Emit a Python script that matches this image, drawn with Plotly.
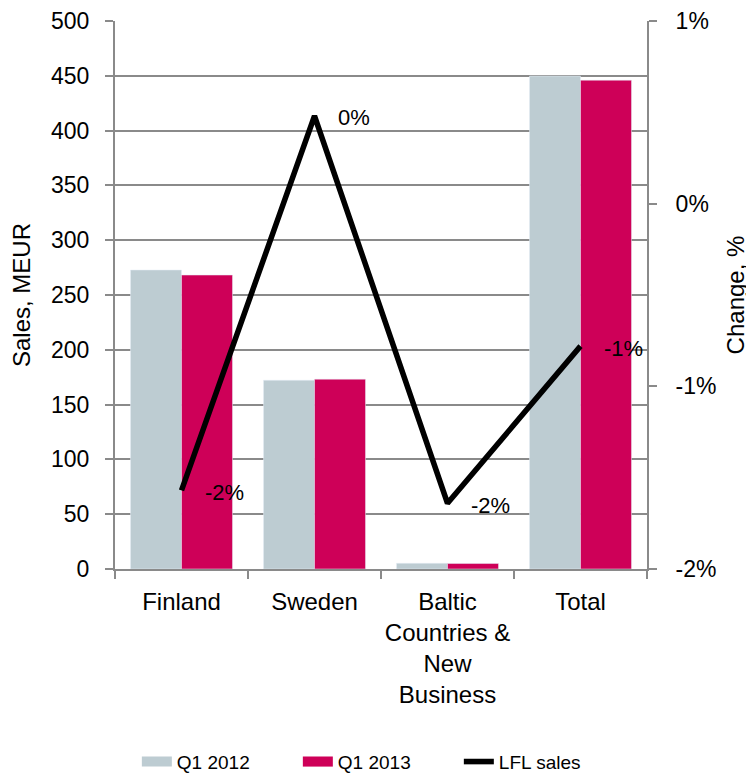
import plotly.graph_objects as go

# values
CATEGORIES = ["Finland", "Sweden", "Baltic<br>Countries &<br>New<br>Business", "Total"]
SALES_Q1_2012 = [272.8, 172.2, 5.2, 449.8]
SALES_Q1_2013 = [268.2, 173.2, 5.0, 446.0]
LFL_CHANGE = [-0.0157, 0.0048, -0.0164, -0.0078]

SALES_TICKS = list(range(0, 501, 50))
CHANGE_TICKS = [-0.02, -0.01, 0.0, 0.01]
CHANGE_TICKTEXT = ["-2%", "-1%", "0%", "1%"]

GREY = "#BDCCD2"
MAGENTA = "#CE0058"
AXIS = "#8A8A8A"
FONT = "Liberation Sans, Arial, sans-serif"


def pct(v):
    return f"{round(v * 100):.0f}%".replace("-0%", "0%")


fig = go.Figure()
fig.add_trace(go.Bar(x=CATEGORIES, y=SALES_Q1_2012, name="Q1 2012",
                     marker_color=GREY, showlegend=False))
fig.add_trace(go.Bar(x=CATEGORIES, y=SALES_Q1_2013, name="Q1 2013",
                     marker_color=MAGENTA, showlegend=False))
fig.add_trace(go.Scatter(x=CATEGORIES, y=LFL_CHANGE, yaxis="y2", name="LFL sales",
                         mode="lines", line=dict(color="black", width=5.5),
                         showlegend=False))

# data labels to the right of each line point
for cat, v in zip(CATEGORIES, LFL_CHANGE):
    fig.add_annotation(x=cat, y=v, yref="y2", text=pct(v), showarrow=False,
                       xanchor="left", yanchor="middle", xshift=21, yshift=-2,
                       font=dict(size=22, color="black"))

# legend swatches (wide rectangles like the original)
for name, col, w in [("Q1 2012", GREY, 14), ("Q1 2013", MAGENTA, 14), ("LFL sales", "black", 5.5)]:
    fig.add_trace(go.Scatter(x=[None], y=[None], mode="lines", name=name,
                             line=dict(color=col, width=w)))

# page body has an 8px margin, so the figure is 8px smaller than the window
fig.update_layout(
    width=746, height=766,
    margin=dict(l=107, r=107, t=13, b=205),
    plot_bgcolor="white", paper_bgcolor="white",
    font=dict(family=FONT, size=23, color="black"),
    barmode="group", bargap=0.233, bargroupgap=0,
    legend=dict(orientation="h", x=0.495, xanchor="center",
                yref="container", y=0.016, yanchor="middle",
                font=dict(size=19), entrywidth=116, entrywidthmode="pixels"),
    xaxis=dict(showline=True, linecolor=AXIS, linewidth=2, ticks="outside",
               tickson="boundaries", ticklen=8, tickcolor=AXIS, tickwidth=2,
               tickfont=dict(size=24), tickangle=0, ticklabelstandoff=10,
               automargin=False),
    yaxis=dict(title=dict(text="Sales, MEUR", standoff=18, font=dict(size=24)),
               range=[0, 500], tickvals=SALES_TICKS, showgrid=True, gridcolor=AXIS,
               gridwidth=1.5, showline=True, linecolor=AXIS, linewidth=2,
               ticks="outside", ticklen=8, tickcolor=AXIS, tickwidth=1.5,
               ticklabelstandoff=11, zeroline=False, automargin=False),
    yaxis2=dict(title=dict(text="Change, %", standoff=12, font=dict(size=24)),
                overlaying="y", side="right", range=[-0.02, 0.01],
                tickvals=CHANGE_TICKS, ticktext=CHANGE_TICKTEXT, showgrid=False,
                showline=True, linecolor=AXIS, linewidth=2, ticks="outside",
                ticklen=8, tickcolor=AXIS, tickwidth=2, ticklabelstandoff=14,
                zeroline=False, automargin=False),
)

fig.write_html("out.html")
